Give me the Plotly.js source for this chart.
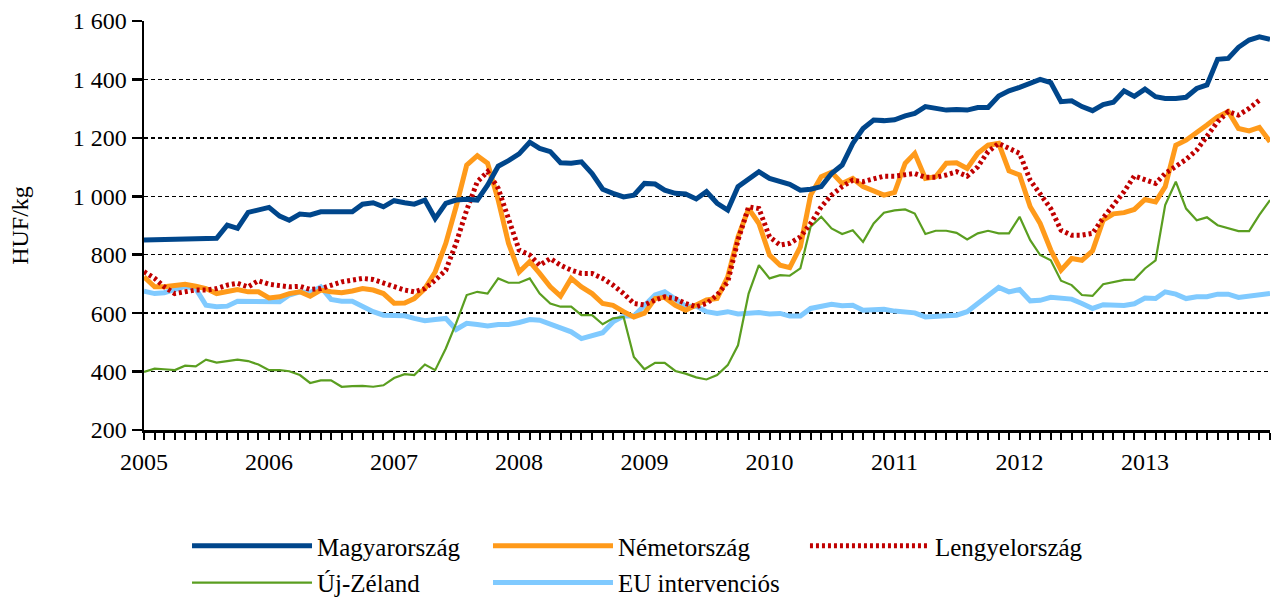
<!DOCTYPE html>
<html>
<head>
<meta charset="utf-8">
<script src="https://cdn.plot.ly/plotly-3.0.1.min.js"></script>
<style>html,body{margin:0;padding:0;background:#fff}#chart{width:1283px;height:598px}</style>
</head>
<body>
<div id="chart"></div>
<script>
// Monthly prices, HUF/kg, January 2005 – January 2014
const startYear = 2005;
const monthCount = 109;

const magyarorszag = [850,851,852,853,853,854,855,856,901,890,945,953,962,932,918,939,936,947,947,947,947,973,978,964,985,
  978,973,987,924,976,987,990,987,1038,1103,1122,1145,1185,1164,1153,1115,1113,1118,1078,1024,1010,998,1004,1044,
  1042,1021,1010,1008,991,1016,976,953,1033,1061,1084,1061,1050,1041,1021,1024,1033,1078,1107,1181,1232,1261,1259,1262,
  1275,1284,1307,1301,1295,1297,1295,1304,1304,1343,1361,1373,1389,1400,1389,1324,1327,1307,1293,1314,1322,1361,1342,1367,
  1341,1335,1335,1339,1369,1381,1469,1472,1510,1535,1546,1537];

const nemetorszag = [724,690,690,695,699,692,684,667,673,681,673,673,652,656,667,673,658,679,673,670,676,684,679,667,634,
  635,650,684,741,839,964,1107,1139,1113,987,839,741,776,736,690,658,719,690,667,633,627,605,587,600,
  650,654,627,610,627,645,650,724,861,958,907,799,764,756,827,1004,1067,1082,1044,1061,1033,1016,1004,1013,
  1113,1147,1061,1067,1113,1115,1095,1147,1175,1181,1087,1073,964,907,816,747,787,781,813,918,940,944,955,989,
  981,1033,1175,1192,1221,1244,1272,1290,1232,1224,1236,1187];

const lengyelorszag = [742,719,690,667,673,679,679,684,696,702,690,711,699,696,690,692,681,684,696,707,713,719,715,702,693,
  679,673,684,713,747,839,953,1050,1084,1027,918,816,799,764,787,764,747,736,736,719,696,667,633,628,
  645,656,650,633,622,633,662,707,850,964,958,861,833,839,861,907,964,1004,1033,1055,1050,1058,1069,1069,
  1073,1078,1065,1065,1073,1084,1069,1101,1153,1181,1164,1147,1055,1010,958,884,867,867,873,926,970,1016,1070,1055,
  1044,1078,1101,1126,1158,1204,1255,1290,1278,1301,1329,null];

const ujZeland = [399,410,408,405,420,418,441,431,436,441,436,424,405,405,401,388,361,370,370,348,350,351,348,353,378,
  391,388,424,405,479,565,662,673,667,719,704,704,719,667,633,622,622,593,593,562,582,587,450,408,
  430,430,402,393,380,373,388,422,490,667,764,719,730,728,753,896,930,890,871,884,844,907,944,952,
  955,941,871,882,882,875,852,873,882,873,873,930,850,799,781,711,696,662,659,699,707,714,715,753,
  781,970,1050,958,918,928,901,890,881,881,936,987];

const euIntervencios = [675,667,670,681,692,684,627,622,624,641,641,642,639,639,662,673,670,690,647,641,641,622,605,593,591,
  591,582,574,578,582,544,565,561,556,561,561,568,578,576,562,547,536,513,521,533,570,590,590,628,
  662,673,647,624,624,605,599,605,597,599,602,597,599,590,590,616,625,630,625,627,610,610,613,607,
  602,601,587,591,591,593,605,633,658,688,673,681,642,644,654,649,648,633,616,629,626,626,632,652,
  650,673,665,650,656,656,665,665,654,659,665,667];

const seriesNames = ['Magyarország','Németország','Lengyelország','Új-Zéland','EU intervenciós'];
const yearLabels = ['2005','2006','2007','2008','2009','2010','2011','2012','2013'];
const yTickValues = [200,400,600,800,1000,1200,1400,1600];
const yTickLabels = ['200','400','600','800','1 000','1 200','1 400','1 600'];

const months = [];
for (let i = 0; i < monthCount; i++) {
  const y = startYear + Math.floor(i / 12);
  const m = (i % 12) + 1;
  months.push(y + '-' + String(m).padStart(2, '0') + '-01');
}
const yearTicks = yearLabels.map(y => y + '-01-01');

const FAMILY = 'Liberation Serif, Times New Roman, serif';
const font = {family: FAMILY, size: 24, color: '#000'};
const legendFont = {family: FAMILY, size: 25, color: '#000'};

function tr(name, values, color, width, dash, legendId) {
  return {x: months, y: values, name: name, type: 'scatter', mode: 'lines',
          line: {color: color, width: width, dash: dash || 'solid'},
          legend: legendId, hoverinfo: 'x+y+name'};
}

const tMagy = tr(seriesNames[0], magyarorszag, '#00468B', 5, null, 'legend');
const tNem = tr(seriesNames[1], nemetorszag, '#FF9A1A', 5, null, 'legend2');
const tLen = tr(seriesNames[2], lengyelorszag, '#C00000', 5, '3px,3px', 'legend3');
const tUj = tr(seriesNames[3], ujZeland, '#5A9E20', 2.2, null, 'legend4');
const tEu = tr(seriesNames[4], euIntervencios, '#80CAFF', 5, null, 'legend5');

// drawing order: thin / background lines first
const data = [tEu, tUj, tNem, tLen, tMagy];

function leg(x, y) {
  return {orientation: 'h', xanchor: 'left', yanchor: 'top', x: x, y: y,
          itemwidth: 120, font: legendFont, bgcolor: 'rgba(0,0,0,0)'};
}
const row1 = -0.2275, row2 = -0.3175;
const col1 = 0.0382, col2 = 0.3055, col3 = 0.587;

const layout = {
  width: 1283, height: 598,
  margin: {l: 144, r: 13, t: 21, b: 168, autoexpand: false},
  paper_bgcolor: '#fff', plot_bgcolor: '#fff',
  font: font,
  showlegend: true,
  legend: leg(col1, row1),
  legend2: leg(col2, row1),
  legend3: leg(col3, row1),
  legend4: leg(col1, row2),
  legend5: leg(col2, row2),
  xaxis: {
    type: 'date', range: ['2005-01-01', '2014-01-01'],
    tickvals: yearTicks, ticktext: yearLabels,
    ticks: 'outside', ticklen: 7, tickwidth: 2, tickcolor: '#000',
    minor: {dtick: 'M1', tick0: '2005-01-01', ticks: 'outside', ticklen: 7, tickwidth: 2, tickcolor: '#000', showgrid: false},
    showline: true, linecolor: '#000', linewidth: 2.5, ticklabelstandoff: 2,
    showgrid: false, zeroline: false, tickfont: font, fixedrange: true
  },
  yaxis: {
    range: [200, 1600], tickvals: yTickValues, ticktext: yTickLabels,
    ticks: 'outside', ticklen: 10, tickwidth: 2.5, tickcolor: '#000',
    showline: true, linecolor: '#000', linewidth: 2.5,
    showgrid: true, gridcolor: '#000', gridwidth: 1.5, griddash: '4px,3px',
    zeroline: false, tickfont: font,
    title: {text: 'HUF/kg', font: font, standoff: 38}, fixedrange: true
  }
};

Plotly.newPlot('chart', data, layout, {displayModeBar: false, staticPlot: true});
</script>
</body>
</html>
